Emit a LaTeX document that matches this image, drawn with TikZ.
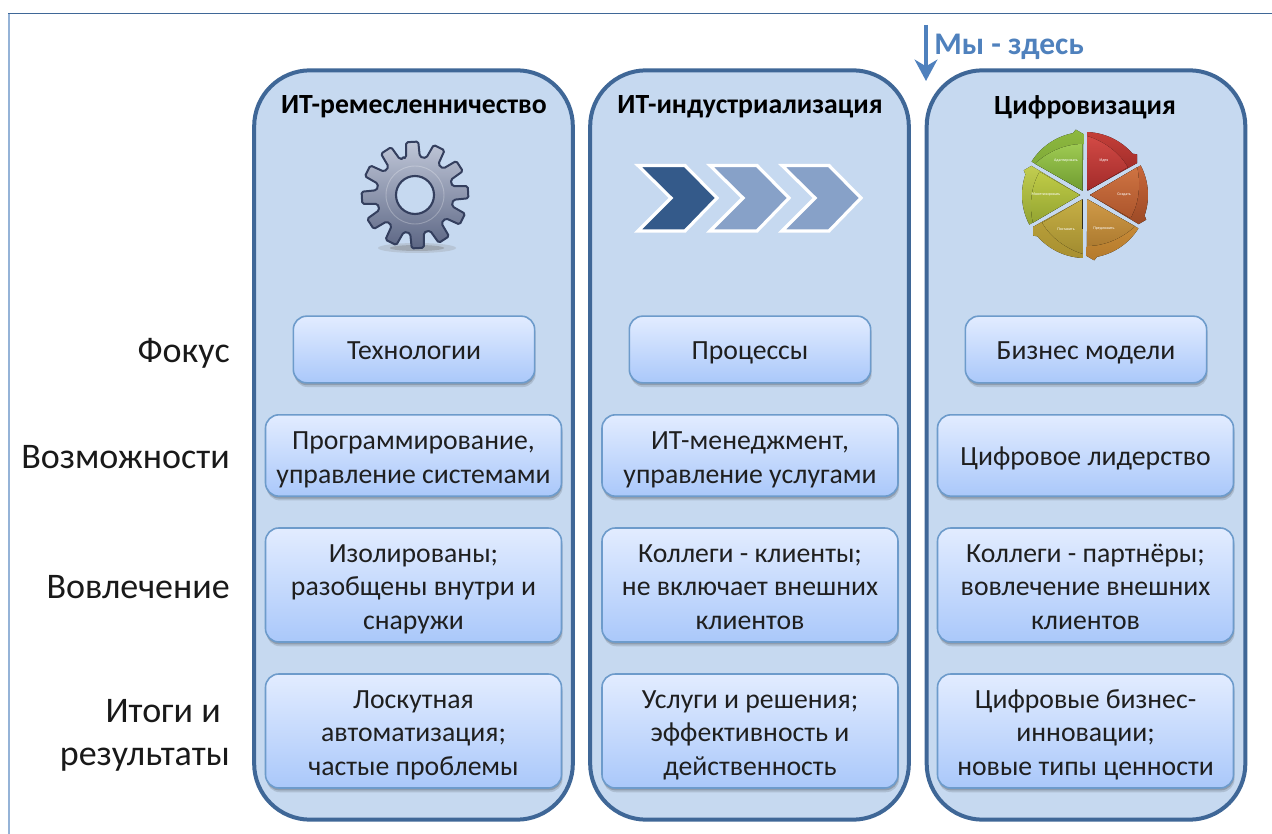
\documentclass[tikz,border=0pt]{standalone}
\usepackage{fontspec}
\setmainfont{Carlito}
\usetikzlibrary{arrows.meta,shadows}
\definecolor{colfill}{HTML}{C6D9F0}
\definecolor{colline}{HTML}{3F6797}
\definecolor{boxtop}{HTML}{E2ECFF}
\definecolor{boxbot}{HTML}{AAC8FA}
\definecolor{boxline}{HTML}{6D9BCB}
\definecolor{herecol}{HTML}{4F81BD}
\definecolor{geartop}{HTML}{C0C7D8}
\definecolor{gearbot}{HTML}{5C6684}
\definecolor{gearline}{HTML}{343F5E}
\tikzset{
  column/.style={draw=colline,fill=colfill,line width=3pt,rounded corners=42pt,minimum width=239pt,minimum height=562pt,inner sep=0pt},
  cellstrut/.style={execute at begin node={\rule[-8pt]{0pt}{#1}}},
  cellbase/.style={draw=boxline,line width=1.2pt,top color=boxtop,bottom color=boxbot,rounded corners=10pt,align=center,inner sep=0pt,
    general shadow={shadow xshift=0.8pt,shadow yshift=-3.2pt,fill=black,opacity=.12},
    general shadow={shadow xshift=0.4pt,shadow yshift=-1.8pt,fill=black,opacity=.17},
    font=\fontsize{20.8}{25.2}\selectfont,text=black!88},
  narrowcell/.style={cellbase,cellstrut=30.6pt,minimum width=181pt,minimum height=50pt},
  oneline/.style={cellbase,cellstrut=30.6pt,minimum width=222pt,minimum height=61pt},
  twolines/.style={cellbase,cellstrut=57.8pt,minimum width=222pt,minimum height=61pt},
  threelines/.style={cellbase,cellstrut=82.6pt,minimum width=222pt,minimum height=85.5pt},
  headtext/.style={font=\fontsize{20.8}{25}\selectfont\bfseries,text=black},
  rowlabel/.style={font=\fontsize{27}{32.2}\selectfont,text=black!90,align=right,anchor=east,inner sep=0pt},
  wheeltext/.style={font=\fontsize{3}{4}\selectfont,text=white,inner sep=0pt},
  chev/.style={draw=white,line width=2.4pt,miter limit=10},
}
\newcommand{\wheelseg}[5]{%
  \begin{scope}[rotate=-60*#1]
    \fill[top color=#4,bottom color=#5] (60:5) -- (88:63) arc[start angle=88,end angle=41,radius=63] -- (38:66) -- (31.5:61) -- cycle;
    \fill[top color=#2,bottom color=#3] (60:5) -- (88:59) .. controls (72:57) and (52:55) .. (33:51) -- cycle;
  \end{scope}}
\newcommand{\chevron}[2]{%
  \begin{scope}[shift={(#1,0)}]
    \draw[chev,fill=#2] (638,165.5) -- (685,165.5) -- (717,198) -- (685,231) -- (638,231) -- (671,198) -- cycle;
  \end{scope}}
\begin{document}
\begin{tikzpicture}[x=.75pt,y=-.75pt]
\useasboundingbox (0,0) rectangle (1272,834);
\fill[white] (0,0) rectangle (1272,834);
% window frame
\coordinate (fa) at (9,14);
\coordinate (fb) at (9,834);
\coordinate (fc) at (1272,13.5);
\coordinate (fd) at (8,13.5);
\draw[color=herecol!60,line width=1.6pt] (fa) -- (fb);
\draw[color=colline,line width=1.1pt] (fd) -- (fc);
% columns
\node[column] (c1) at (413.5,445) {};
\node[column] (c2) at (749.5,445) {};
\node[column] (c3) at (1086,445) {};
% headers
\node[headtext] (h1) at (414,107) {ИТ-ремесленничество};
\node[headtext] (h2) at (750,107) {ИТ-индустриализация};
\node[headtext] (h3) at (1085,107) {Цифровизация};
% here marker
\coordinate (ma) at (926,25);
\coordinate (mb) at (926,81);
\draw[color=herecol,line width=3.2pt,-{Stealth[length=16pt,width=17pt,inset=5pt]}] (ma) -- (mb);
\node[font=\fontsize{23.6}{28}\selectfont\bfseries,text=herecol,anchor=west,inner sep=0pt] (here) at (934,47) {Мы - здесь};
% gear
\fill[black!45,opacity=.25] (417,248) ellipse[x radius=39,y radius=5];
\fill[black!55,opacity=.35] (417,248) ellipse[x radius=27,y radius=3];
\begin{scope}[shift={(415,195)},y=.75pt]
  \draw[draw=gearline,line width=1.5pt,line join=round,top color=geartop,bottom color=gearbot,rounded corners=1.2pt]
    (108:38)
    \foreach \a in {93,63,33,3,-27,-57,-87,-117,-147,-177,-207,-237}{
      -- ({\a+10}:39) -- ({\a+6.5}:53.5) -- ({\a-6.5}:53.5) -- ({\a-10}:39) -- ({\a-15}:38)
    } -- cycle;
  \draw[white,opacity=.25,line width=.7pt] (0,0) circle[radius=29];
  \draw[draw=gearline,fill=colfill,line width=1.6pt] (0,0) circle[radius=19];
\end{scope}
% chevrons
\definecolor{chevdark}{HTML}{345A8A}
\definecolor{chevlight}{HTML}{87A1C8}
\chevron{0}{chevdark}
\chevron{72}{chevlight}
\chevron{144}{chevlight}
% wheel
\definecolor{wa}{HTML}{D24A45}\definecolor{wb}{HTML}{A22B2A}\definecolor{wc}{HTML}{C43F39}\definecolor{wd}{HTML}{8E2221}
\definecolor{we}{HTML}{CE7342}\definecolor{wf}{HTML}{AC552C}\definecolor{wg}{HTML}{C8673A}\definecolor{wh}{HTML}{9C4A26}
\definecolor{wi}{HTML}{D09A48}\definecolor{wj}{HTML}{AD7B30}\definecolor{wk}{HTML}{D5963F}\definecolor{wl}{HTML}{B47A2C}
\definecolor{wm}{HTML}{C6AF45}\definecolor{wn}{HTML}{A28C30}\definecolor{wo}{HTML}{BFA53E}\definecolor{wp}{HTML}{A89030}
\definecolor{wq}{HTML}{BFCB46}\definecolor{wr}{HTML}{93A432}\definecolor{ws}{HTML}{C2CD50}\definecolor{wt}{HTML}{92A332}
\definecolor{wu}{HTML}{9ECA52}\definecolor{wv}{HTML}{6F9B30}\definecolor{ww}{HTML}{8DB83F}\definecolor{wx}{HTML}{76A033}
\begin{scope}[shift={(1085,195)},y=.75pt]
  \wheelseg{0}{wa}{wb}{wc}{wd}
  \wheelseg{1}{we}{wf}{wg}{wh}
  \wheelseg{2}{wi}{wj}{wk}{wl}
  \wheelseg{3}{wm}{wn}{wo}{wp}
  \wheelseg{4}{wq}{wr}{ws}{wt}
  \wheelseg{5}{wu}{wv}{ww}{wx}
\end{scope}
\node[wheeltext] (w1) at (1104,161) {Идея};
\node[wheeltext] (w2) at (1124,195) {Создать};
\node[wheeltext] (w3) at (1104,229) {Предложить};
\node[wheeltext] (w4) at (1066,229) {Поставить};
\node[wheeltext] (w5) at (1046,195) {Монетизировать};
\node[wheeltext] (w6) at (1066,161) {Адаптировать};
% row labels
\node[rowlabel] (l1) at (230,353) {Фокус};
\node[rowlabel] (l2) at (230,457) {Возможности};
\node[rowlabel] (l3) at (230,587) {Вовлечение};
\node[rowlabel] (l4) at (230,735.5) {Итоги и\hspace{.25em}\null\\результаты};
% cells, column 1
\node[narrowcell] (a1) at (414,349.5) {Технологии};
\node[twolines] (a2) at (413.5,455.5) {Программирование,\\управление системами};
\node[threelines] (a3) at (413.5,585) {Изолированы;\\разобщены внутри и\\снаружи};
\node[threelines] (a4) at (413.5,731) {Лоскутная\\автоматизация;\\частые проблемы};
% cells, column 2
\node[narrowcell] (b1) at (750,349.5) {Процессы};
\node[twolines] (b2) at (750,455.5) {ИТ-менеджмент,\\управление услугами};
\node[threelines] (b3) at (750,585) {Коллеги - клиенты;\\не включает внешних\\клиентов};
\node[threelines] (b4) at (750,731) {Услуги и решения;\\эффективность и\\действенность};
% cells, column 3
\node[narrowcell] (d1) at (1086,349.5) {Бизнес модели};
\node[oneline] (d2) at (1085.5,455.5) {Цифровое лидерство};
\node[threelines] (d3) at (1085.5,585) {Коллеги - партнёры;\\вовлечение внешних\\клиентов};
\node[threelines] (d4) at (1085.5,731) {Цифровые бизнес-\\инновации;\\новые типы ценности};
\end{tikzpicture}
\end{document}
